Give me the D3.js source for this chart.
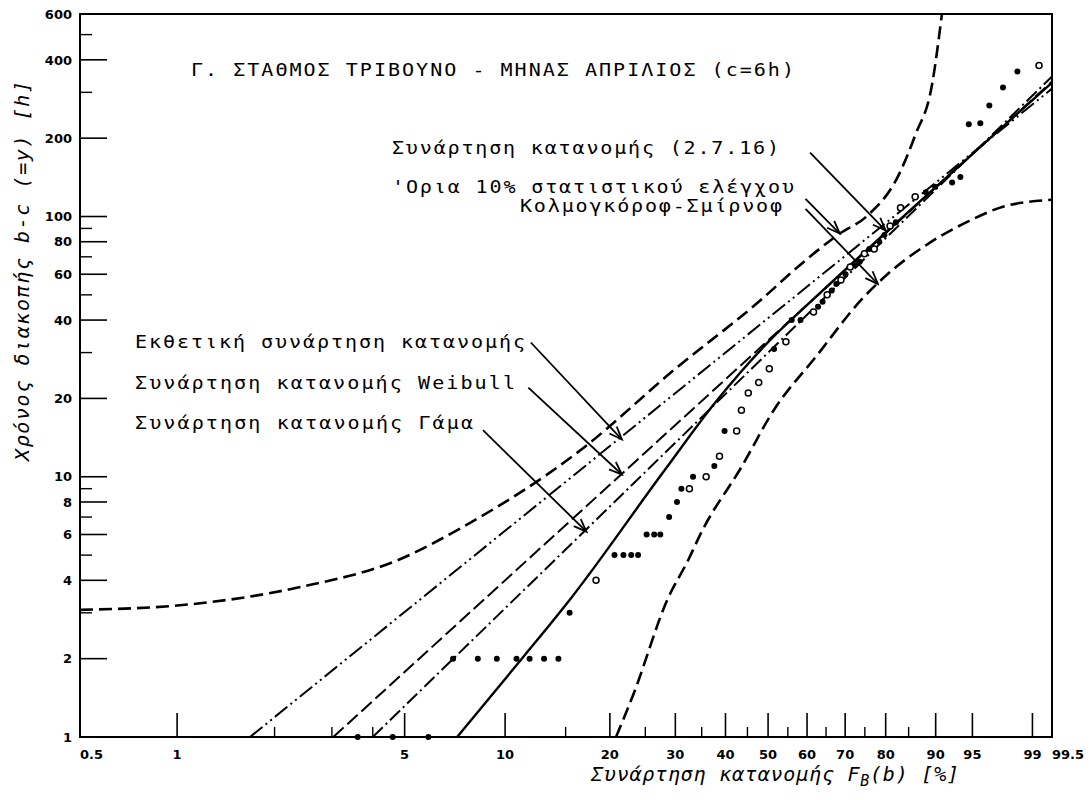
<!DOCTYPE html>
<html>
<head>
<meta charset="utf-8">
<script src="https://cdn.jsdelivr.net/npm/d3@7"></script>
<style>
  body { margin: 0; background: #fff; }
</style>
</head>
<body>
<div id="chart"></div>
<script>
// ---- data (F in %, y in hours) ----
const xLabelValues = [0.5, 1, 5, 10, 20, 30, 40, 50, 60, 70, 80, 90, 95, 99, 99.5];
const xMajorTicks = [1, 5, 10, 20, 30, 40, 50, 60, 70, 80, 90, 95, 99];
const xMinorTicks = [2, 3, 4, 15, 25, 35, 45, 55, 65, 75, 85];
const yLabelValues = [1, 2, 4, 6, 8, 10, 20, 40, 60, 80, 100, 200, 400, 600];
const yMinorTicks = [3, 5, 7, 9, 30, 50, 70, 90, 300, 500];

// fitted distribution functions
const fitCurve    = [[7.2, 1], [11.2, 2], [15.5, 3.4], [28, 10.5], [38, 19.5], [50, 32.9], [61.6, 48], [80.4, 88], [99.5, 327]];
const expLine     = [[1.68, 1], [99.5, 310]];
const weibullLine = [[3.03, 1], [99.5, 330]];
const gammaLine   = [[4.0, 1], [99.5, 345]];

// Kolmogorov-Smirnov 10% limits
const ksUpper = [[0.5, 3.08], [1, 3.2], [2.4, 3.77], [4.8, 4.8], [7.4, 6.36], [16.6, 12.7], [30, 26],
  [47.7, 47], [58.1, 65], [68.6, 86], [75.4, 100], [82.7, 142], [86.3, 205], [89.4, 322], [91, 600]];
const ksLower = [[20.8, 1], [23.3, 1.48], [28.6, 3.37], [32.4, 4.8], [34.9, 6.1], [43.6, 10.9],
  [51.5, 18.1], [62.4, 29], [74.2, 48], [80.4, 60], [88.9, 79], [94.6, 96], [97.6, 109], [99.5, 116]];

// observed values
const obsFilled = [[3.6, 1], [4.6, 1], [5.9, 1], [7.0, 2], [8.3, 2], [9.45, 2], [10.8, 2], [11.8, 2],
  [13.0, 2], [14.3, 2], [15.4, 3], [20.6, 5], [21.8, 5], [22.9, 5], [23.9, 5], [25.2, 6], [26.4, 6],
  [27.4, 6], [28.9, 7], [30.3, 8], [31.1, 9], [33.3, 10], [37.6, 11], [39.8, 15], [51.5, 31],
  [56.0, 40], [58.3, 40], [62.9, 45], [64.1, 47], [66.5, 52], [67.7, 55], [70.1, 60], [72.5, 65],
  [73.7, 67], [76.1, 75], [78.5, 80], [79.7, 85], [82.3, 95], [88.3, 124], [89.9, 130], [92.5, 135],
  [93.6, 142], [94.6, 226], [95.8, 228], [96.6, 267], [97.6, 313], [98.4, 361]];
const obsOpen = [[18.3, 4], [32.6, 9], [35.9, 10], [38.7, 12], [42.5, 15], [43.6, 18], [45.2, 21],
  [47.7, 23], [50.3, 26], [54.5, 33], [61.7, 43], [65.3, 50], [68.9, 57], [71.3, 64], [74.9, 72],
  [77.3, 75], [81.0, 92], [83.3, 108], [86.3, 119], [99.2, 380]];

// annotation arrows: [from, to]
const arrows = [
  [[11.9, 32.8], [21.6, 13.9]],
  [[11.7, 22.0], [21.6, 10.2]],
  [[8.6, 15.1], [17.2, 6.15]],
  [[60.8, 176], [80.0, 88.3]],
  [[59.6, 117], [68.6, 86]],
  [[59.6, 107], [78.2, 55]]
];

// ---- layout ----
const W = 1092, H = 800;
const margin = { top: 14, right: 40, bottom: 63, left: 80 },
  width = W - margin.left - margin.right,
  height = H - margin.top - margin.bottom;

const svg = d3.select("#chart")
  .append("svg")
  .attr("width", W)
  .attr("height", H)
  .style("font-family", "'DejaVu Sans Mono', monospace");

const defs = svg.append("defs");

const g = svg.append("g")
  .attr("transform", `translate(${margin.left}, ${margin.top})`);

// Weibull probability paper: u = ln(-ln(1 - F))
const u = p => Math.log(-Math.log(1 - p / 100));
const xLin = d3.scaleLinear().domain([u(0.5), u(99.5)]).range([0, width]);
const x = p => xLin(u(p));
const y = d3.scaleLog().domain([1, 600]).range([height, 0]);

// frame
g.append("rect")
  .attr("width", width)
  .attr("height", height)
  .attr("fill", "none")
  .attr("stroke", "#000")
  .attr("stroke-width", 2);

// x ticks (drawn upward from the bottom edge)
g.selectAll(".xmaj").data(xMajorTicks).enter().append("line")
  .attr("x1", d => x(d)).attr("x2", d => x(d))
  .attr("y1", height).attr("y2", height - 24)
  .attr("stroke", "#000").attr("stroke-width", 1.6);
g.selectAll(".xmin").data(xMinorTicks).enter().append("line")
  .attr("x1", d => x(d)).attr("x2", d => x(d))
  .attr("y1", height).attr("y2", height - 10)
  .attr("stroke", "#000").attr("stroke-width", 1.4);

g.selectAll(".xlab").data(xLabelValues).enter().append("text")
  .attr("x", d => x(d))
  .attr("y", height + 22)
  .attr("text-anchor", d => (d === 0.5 || d === 99.5) ? "start" : "middle")
  .attr("font-family", "'DejaVu Sans', sans-serif")
  .attr("font-weight", "bold")
  .attr("font-size", 13)
  .text(d => d);

// y ticks (drawn rightward from the left edge)
g.selectAll(".ymaj").data(yLabelValues.filter(d => d > 1 && d < 600)).enter().append("line")
  .attr("x1", 0).attr("x2", 27)
  .attr("y1", d => y(d)).attr("y2", d => y(d))
  .attr("stroke", "#000").attr("stroke-width", 1.6);
g.selectAll(".ymin").data(yMinorTicks).enter().append("line")
  .attr("x1", 0).attr("x2", 12)
  .attr("y1", d => y(d)).attr("y2", d => y(d))
  .attr("stroke", "#000").attr("stroke-width", 1.4);

g.selectAll(".ylab").data(yLabelValues).enter().append("text")
  .attr("x", -8)
  .attr("y", d => y(d))
  .attr("dy", "0.36em")
  .attr("text-anchor", "end")
  .attr("font-family", "'DejaVu Sans', sans-serif")
  .attr("font-weight", "bold")
  .attr("font-size", 13)
  .text(d => d);

// curves
const line = d3.line()
  .x(d => x(d[0]))
  .y(d => y(d[1]))
  .curve(d3.curveMonotoneX);

const series = [
  { data: ksUpper, dash: "13,6", w: 2.6 },
  { data: ksLower, dash: "13,6", w: 2.6 },
  { data: expLine, dash: "16,4,2,4,2,4", w: 2 },
  { data: weibullLine, dash: "14,5", w: 2 },
  { data: gammaLine, dash: "14,4,2,4", w: 2 },
  { data: fitCurve, dash: null, w: 2.4 }
];

defs.append("clipPath").attr("id", "plotclip")
  .append("rect").attr("width", width).attr("height", height);

series.forEach(s => {
  g.append("path")
    .datum(s.data)
    .attr("clip-path", "url(#plotclip)")
    .attr("fill", "none")
    .attr("stroke", "#000")
    .attr("stroke-width", s.w)
    .attr("stroke-dasharray", s.dash)
    .attr("d", line);
});

// observed points
g.selectAll(".pf").data(obsFilled).enter().append("circle")
  .attr("cx", d => x(d[0])).attr("cy", d => y(d[1]))
  .attr("r", 3).attr("fill", "#000");
g.selectAll(".po").data(obsOpen).enter().append("circle")
  .attr("cx", d => x(d[0])).attr("cy", d => y(d[1]))
  .attr("r", 3).attr("fill", "#fff").attr("stroke", "#000").attr("stroke-width", 1.5);

// arrows
defs.append("marker")
  .attr("id", "head")
  .attr("viewBox", "-14 -7 16 14")
  .attr("refX", 0).attr("refY", 0)
  .attr("markerWidth", 16).attr("markerHeight", 14)
  .attr("markerUnits", "userSpaceOnUse")
  .attr("orient", "auto")
  .append("path")
  .attr("d", "M-13,-5L0,0L-13,5")
  .attr("fill", "none").attr("stroke", "#000").attr("stroke-width", 1.8);

g.selectAll(".arrow").data(arrows).enter().append("line")
  .attr("x1", d => x(d[0][0])).attr("y1", d => y(d[0][1]))
  .attr("x2", d => x(d[1][0])).attr("y2", d => y(d[1][1]))
  .attr("stroke", "#000").attr("stroke-width", 1.8)
  .attr("marker-end", "url(#head)");

// plotter-style texts: glyphs stretched horizontally, then fitted to length
const SX = 1.18;
const labels = [
  { t: "Γ. ΣΤΑΘΜΟΣ ΤΡΙΒΟΥΝΟ - ΜΗΝΑΣ ΑΠΡΙΛΙΟΣ (c=6h)", x: 191, y: 76, len: 603 },
  { t: "Συνάρτηση κατανομής (2.7.16)", x: 392, y: 154, len: 387 },
  { t: "'Ορια 10% στατιστικού ελέγχου", x: 392, y: 193, len: 402 },
  { t: "Κολμογκόροφ-Σμίρνοφ", x: 520, y: 212, len: 262 },
  { t: "Εκθετική συνάρτηση κατανομής", x: 135, y: 348, len: 390 },
  { t: "Συνάρτηση κατανομής Weibull", x: 135, y: 389, len: 380 },
  { t: "Συνάρτηση κατανομής Γάμα", x: 135, y: 429, len: 338 }
];
svg.selectAll(".lbl").data(labels).enter().append("text")
  .attr("transform", d => `translate(${d.x}, ${d.y}) scale(${SX}, 1)`)
  .attr("font-size", 17)
  .attr("textLength", d => d.len / SX)
  .attr("lengthAdjust", "spacing")
  .text(d => d.t);

// axis titles
const xt = svg.append("text")
  .attr("x", 591).attr("y", 781)
  .attr("font-size", 20)
  .attr("font-style", "italic")
  .attr("textLength", 368)
  .attr("lengthAdjust", "spacing");
xt.append("tspan").text("Συνάρτηση κατανομής F");
xt.append("tspan").attr("font-size", 15).attr("dy", 5).text("B");
xt.append("tspan").attr("dy", -5).text("(b) [%]");

svg.append("text")
  .attr("transform", "translate(29, 271) rotate(-90)")
  .attr("text-anchor", "middle")
  .attr("font-size", 20)
  .attr("font-style", "italic")
  .attr("textLength", 380)
  .attr("lengthAdjust", "spacing")
  .text("Χρόνος διακοπής b-c (=y) [h]");
</script>
</body>
</html>
